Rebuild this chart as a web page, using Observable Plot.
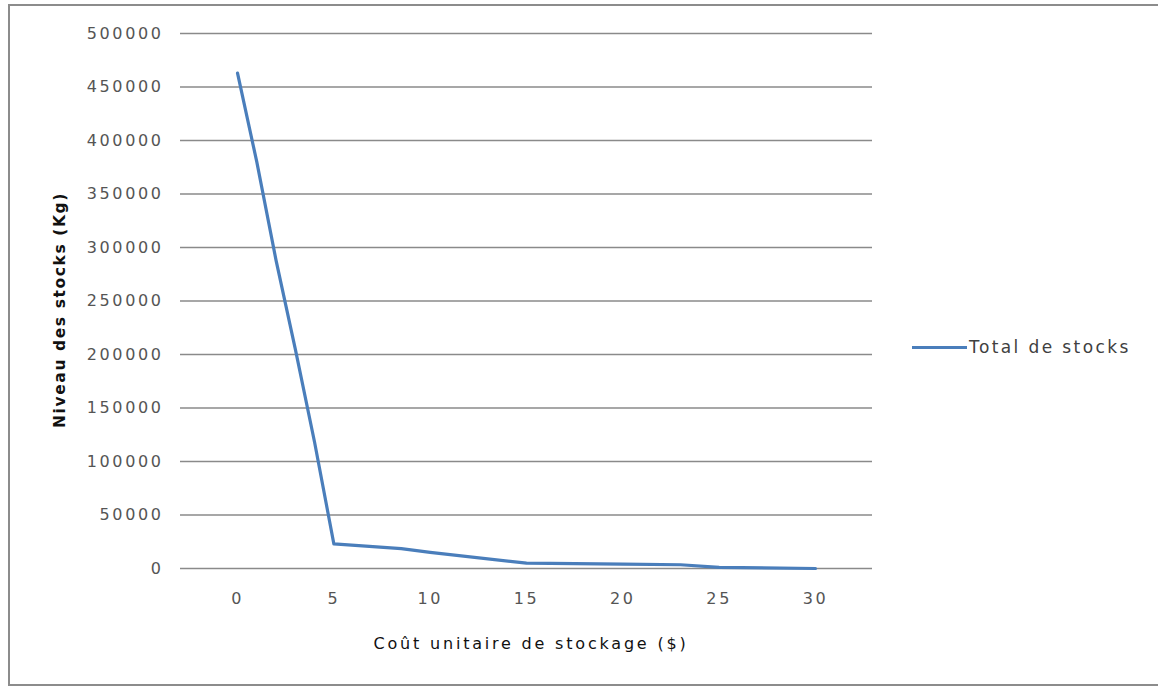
<!DOCTYPE html>
<html>
<head>
<meta charset="utf-8">
<script src="https://cdn.jsdelivr.net/npm/d3@7"></script>
<script src="https://cdn.jsdelivr.net/npm/@observablehq/plot@0.6"></script>
<style>
  html, body { margin: 0; padding: 0; background: #fff; overflow: hidden; }
  #wrap { position: relative; width: 1158px; height: 687px; overflow: hidden; font-family: "DejaVu Sans", sans-serif; }
  #frame { position: absolute; left: 8px; top: 4px; width: 1180px; height: 682px; border: 2px solid #8c8c8c; box-sizing: border-box; }
  #chart { position: absolute; left: 0; top: 0; }
  #chart svg text { letter-spacing: 2.6px; }
  #legend { position: absolute; left: 912px; top: 337px; display: flex; align-items: center; font-size: 17px; letter-spacing: 2.4px; color: #404040; }
  #legend .sw { width: 55px; height: 3px; background: #4a7ebb; margin-right: 2px; }
  #ylab { position: absolute; left: 60px; top: 310px; transform: translate(-50%, -50%) rotate(-90deg); white-space: nowrap; font-size: 15.5px; font-weight: bold; color: #111; letter-spacing: 1.6px; }
  #xlab { position: absolute; left: 531px; top: 643px; transform: translate(-50%, -50%); white-space: nowrap; font-size: 16px; color: #111; letter-spacing: 2.8px; }
</style>
</head>
<body>
<div id="wrap">
  <div id="frame"></div>
  <div id="chart"></div>
  <div id="ylab"></div>
  <div id="xlab"></div>
  <div id="legend"><span class="sw"></span><span id="legendText"></span></div>
</div>
<script>
// Data
const seriesName = "Total de stocks";
const cout = [0, 1, 2, 3, 4, 5, 8.5, 10, 15, 20, 23, 25, 30];
const stocks = [463000, 380000, 288000, 205000, 118000, 23000, 18500, 15000, 5000, 4000, 3500, 1000, 0];
const xTicks = [0, 5, 10, 15, 20, 25, 30];
const yTicks = [0, 50000, 100000, 150000, 200000, 250000, 300000, 350000, 400000, 450000, 500000];
const xLabel = "Coût unitaire de stockage ($)";
const yLabel = "Niveau des stocks (Kg)";

const data = cout.map((c, i) => ({cout: c, stock: stocks[i]}));

const chart = Plot.plot({
  width: 1158,
  height: 687,
  marginLeft: 180,
  marginRight: 286,
  marginTop: 33,
  marginBottom: 119,
  style: {fontFamily: "'DejaVu Sans', sans-serif", fontSize: "16px", color: "#555", background: "transparent"},
  x: {domain: [-2.96, 32.96]},
  y: {domain: [0, 500000]},
  marks: [
    Plot.ruleY(yTicks, {stroke: "#8a8a8a", strokeWidth: 1.5}),
    Plot.axisY({ticks: yTicks, tickSize: 0, tickPadding: 17, tickFormat: d => String(d), label: null}),
    Plot.axisX({ticks: xTicks, tickSize: 0, tickPadding: 24, tickFormat: d => String(d), label: null}),
    Plot.line(data, {x: "cout", y: "stock", stroke: "#4a7ebb", strokeWidth: 3.2, strokeLinejoin: "round"})
  ]
});
document.getElementById("chart").appendChild(chart);
document.getElementById("legendText").textContent = seriesName;
document.getElementById("ylab").textContent = yLabel;
document.getElementById("xlab").textContent = xLabel;
</script>
</body>
</html>
